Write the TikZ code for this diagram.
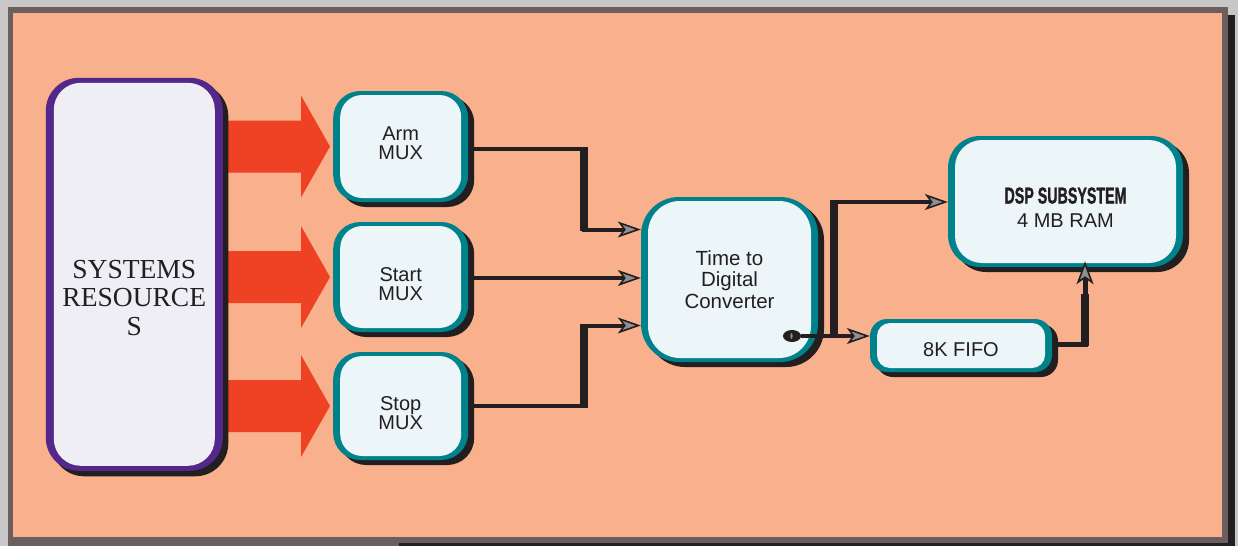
\documentclass[tikz,border=0pt]{standalone}
\usepackage{fontspec}
\usepackage{graphicx}
\setmainfont{Liberation Sans}
\newfontfamily\sysfont{Liberation Serif}
\newfontfamily\dspfont[FakeBold=1.6]{Liberation Sans Bold}
\usetikzlibrary{arrows.meta,shadows,shapes.geometric}
\definecolor{bgout}{HTML}{C8C6C6}
\definecolor{framec}{HTML}{6B5E5F}
\definecolor{salmon}{HTML}{F9B08C}
\definecolor{redarr}{HTML}{EF4123}
\definecolor{purplec}{HTML}{54278A}
\definecolor{tealc}{HTML}{00828C}
\definecolor{boxfill}{HTML}{ECF5F8}
\definecolor{sysfill}{HTML}{EFEEF5}
\definecolor{shadowc}{HTML}{231F20}
\definecolor{textc}{HTML}{231F20}
\definecolor{arrowgray}{HTML}{8E9093}
\pgfdeclarelayer{back}
\pgfdeclarelayer{mid}
\pgfsetlayers{back,mid,main}
\tikzset{
  gtip/.tip={Stealth[length=23pt,width=16pt,inset=6pt,line width=1.6pt,fill=arrowgray]},
  gtipv/.tip={Stealth[length=23pt,width=17pt,inset=6pt,line width=1.6pt,fill=arrowgray]},
  tealbox/.style 2 args={rectangle, inner sep=0pt, rounded corners=#1, fill=tealc,
    drop shadow={shadow xshift=6pt, shadow yshift=-5pt, opacity=1, fill=shadowc},
    path picture={\fill[boxfill, rounded corners=#2]
      ([shift={(7pt,4pt)}]path picture bounding box.south west) rectangle
      ([shift={(-7pt,-4pt)}]path picture bounding box.north east);}},
  sysbox/.style={rectangle, inner sep=0pt, rounded corners=33pt, fill=purplec,
    drop shadow={shadow xshift=5.5pt, shadow yshift=-5.5pt, opacity=1, fill=shadowc},
    path picture={\fill[sysfill, rounded corners=27pt]
      ([shift={(8pt,5pt)}]path picture bounding box.south west) rectangle
      ([shift={(-8pt,-5pt)}]path picture bounding box.north east);}},
  lbl/.style={text=textc, align=center, inner sep=0pt, font=\fontsize{20}{20.5}\selectfont},
  conn/.style={draw=shadowc, line width=4pt, line join=miter},
  vseg/.style={draw=shadowc, line width=8pt},
  redshape/.style={fill=redarr},
}
\begin{document}
\begin{tikzpicture}[x=1pt,y=-1pt]
\useasboundingbox (0,0) rectangle (1238,546);
\begin{pgfonlayer}{back}
  \fill[bgout] (0,0) rectangle (1238,546);
  \fill[framec] (8.3,6.7) rectangle (1228.3,546);
  \fill[shadowc] (1228.3,15) rectangle (1235,546);
  \fill[shadowc] (399,543.3) rectangle (1235,546);
  \fill[salmon] (13.3,12.7) rectangle (1221.7,537.3);
\end{pgfonlayer}

% boxes
\node[sysbox, minimum width=177pt, minimum height=393pt] (sys) at (134.3,274.3) {};
\node[lbl, font=\sysfont\fontsize{27.5}{28.5}\selectfont] (systxt) at (134.3,298) {SYSTEMS\\RESOURCE\\S};

\node[tealbox={27pt}{22pt}, minimum width=135pt, minimum height=111pt] (arm) at (400.7,146.5) {};
\node[lbl, font=\fontsize{20}{19}\selectfont] (armtxt) at (400.7,143.5) {Arm\\MUX};
\node[tealbox={27pt}{22pt}, minimum width=135pt, minimum height=110pt] (start) at (400.7,277) {};
\node[lbl, font=\fontsize{20}{19}\selectfont] (starttxt) at (400.7,284.5) {Start\\MUX};
\node[tealbox={27pt}{22pt}, minimum width=135pt, minimum height=108pt] (stop) at (400.7,406) {};
\node[lbl, font=\fontsize{20}{19}\selectfont] (stoptxt) at (400.7,413) {Stop\\MUX};

\node[tealbox={38pt}{32pt}, minimum width=177pt, minimum height=165pt] (tdc) at (729.5,279.5) {};
\node[lbl, font=\fontsize{20.5}{21.5}\selectfont] (tdctxt) at (729.5,279.5) {Time to\\Digital\\Converter};

\node[tealbox={32pt}{27pt}, minimum width=235pt, minimum height=131pt] (dsp) at (1065.5,201.5) {};
\node[lbl, font=\fontsize{20}{24}\selectfont] (dsptxt) at (1065.5,207.5)
  {\scalebox{0.62}[1]{\dspfont\fontsize{23}{24}\selectfont DSP SUBSYSTEM}\\4 MB RAM};

\node[tealbox={17pt}{13pt}, minimum width=182pt, minimum height=53pt] (fifo) at (961,345.5) {};
\node[lbl] (fifotxt) at (961,350) {8K FIFO};

\node[ellipse, fill=shadowc, minimum width=18pt, minimum height=12pt, inner sep=0pt] (port) at (792,336) {};
\fill[arrowgray] ([xshift=-0.5pt]port.center) ellipse (1.1pt and 3pt);

% red block arrows
\begin{pgfonlayer}{mid}
  \fill[redshape] ([xshift=-3pt]arm.west) -- ++(-29,-51) -- ++(0,25) -- ++(-92,0) -- ++(0,52) -- ++(92,0) -- ++(0,25) -- cycle;
  \fill[redshape] ([xshift=-3pt]start.west) -- ++(-29,-51) -- ++(0,25) -- ++(-92,0) -- ++(0,52) -- ++(92,0) -- ++(0,25) -- cycle;
  \fill[redshape] ([xshift=-3pt]stop.west) -- ++(-29,-51) -- ++(0,25) -- ++(-92,0) -- ++(0,52) -- ++(92,0) -- ++(0,25) -- cycle;
\end{pgfonlayer}

% thick vertical segments
\draw[vseg] (584,147) -- (584,231);
\draw[vseg] (584,408) -- (584,323.5);
\draw[vseg] (834,200) -- (834,338);
\draw[vseg] (1085,346) -- (1085,294);

% connectors
\draw[conn, -{gtip}] (arm.east |- 0,149) -| (584,229.5) -- (tdc.west |- 0,229.5);
\draw[conn, line width=3.5pt, -{gtip}] (start.east |- 0,278) -- (tdc.west |- 0,278);
\draw[conn, -{gtip}] (stop.east |- 0,406) -| (584,325.5) -- (tdc.west |- 0,325.5);
\draw[conn, -{gtip}] (port.east) -- (fifo.west |- port.east);
\draw[conn, -{gtip}] (port.east) -| (834,202) -- (dsp.west |- 0,202);
\draw[conn, line width=5pt, -{gtipv}, shorten >=-6pt] (fifo.east |- 0,344) -| (dsp.south -| 1085,0);
\end{tikzpicture}
\end{document}
